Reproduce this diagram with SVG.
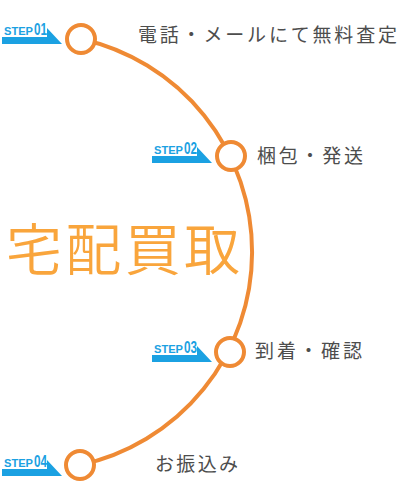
<svg xmlns="http://www.w3.org/2000/svg" width="411" height="499" viewBox="0 0 411 499">
<style>
.arc{fill:none;stroke:#ef8a34;stroke-width:4}
.dot{fill:#fff;stroke:#ef8a34;stroke-width:4}
.badge{fill:#1ba1e2}
.st{font-family:"Liberation Sans",Arial,sans-serif;font-weight:bold;fill:#1ba1e2}
.lbl{font-family:"Noto Sans CJK JP","Noto Sans",sans-serif;font-size:19px;fill:#4d4d4d}
.big{font-family:"Noto Sans CJK JP","Noto Sans",sans-serif;font-size:56px;font-weight:350;fill:#f9a53c}
</style>
<defs>
<g id="badge">
<polygon class="badge" points="0,9 45,9 45,0 60,16 0,16"/>
</g>
</defs>
<rect width="411" height="499" fill="#fff"/>
<g id="connectors">
<path class="arc" d="M81 39 A218 218 0 0 1 80 465"/>
</g>
<text id="title" class="big" x="6" y="270" textLength="234" lengthAdjust="spacing">宅配買取</text>
<g id="step01">
<g transform="translate(2,28)">
<use href="#badge"/>
<text class="st" x="2" y="7" font-size="10" textLength="29" lengthAdjust="spacingAndGlyphs">STEP</text>
<text class="st" x="32" y="7" font-size="16" textLength="13" lengthAdjust="spacingAndGlyphs">01</text>
</g>
<circle class="dot" cx="81" cy="39" r="14"/>
<text class="lbl" x="138" y="42" textLength="259" lengthAdjust="spacing">電話・メールにて無料査定</text>
</g>
<g id="step02">
<g transform="translate(152,147)">
<use href="#badge"/>
<text class="st" x="2" y="7" font-size="10" textLength="29" lengthAdjust="spacingAndGlyphs">STEP</text>
<text class="st" x="32" y="7" font-size="16" textLength="13" lengthAdjust="spacingAndGlyphs">02</text>
</g>
<circle class="dot" cx="231" cy="156" r="14"/>
<text class="lbl" x="257" y="162.5" textLength="106" lengthAdjust="spacing">梱包・発送</text>
</g>
<g id="step03">
<g transform="translate(152,346)">
<use href="#badge"/>
<text class="st" x="2" y="7" font-size="10" textLength="29" lengthAdjust="spacingAndGlyphs">STEP</text>
<text class="st" x="32" y="7" font-size="16" textLength="13" lengthAdjust="spacingAndGlyphs">03</text>
</g>
<circle class="dot" cx="230" cy="352" r="14"/>
<text class="lbl" x="255" y="358" textLength="107" lengthAdjust="spacing">到着・確認</text>
</g>
<g id="step04">
<g transform="translate(2,460)">
<use href="#badge"/>
<text class="st" x="2" y="7" font-size="10" textLength="29" lengthAdjust="spacingAndGlyphs">STEP</text>
<text class="st" x="32" y="7" font-size="16" textLength="13" lengthAdjust="spacingAndGlyphs">04</text>
</g>
<circle class="dot" cx="80" cy="465" r="14"/>
<text class="lbl" x="155" y="471" textLength="83" lengthAdjust="spacing">お振込み</text>
</g>
</svg>
